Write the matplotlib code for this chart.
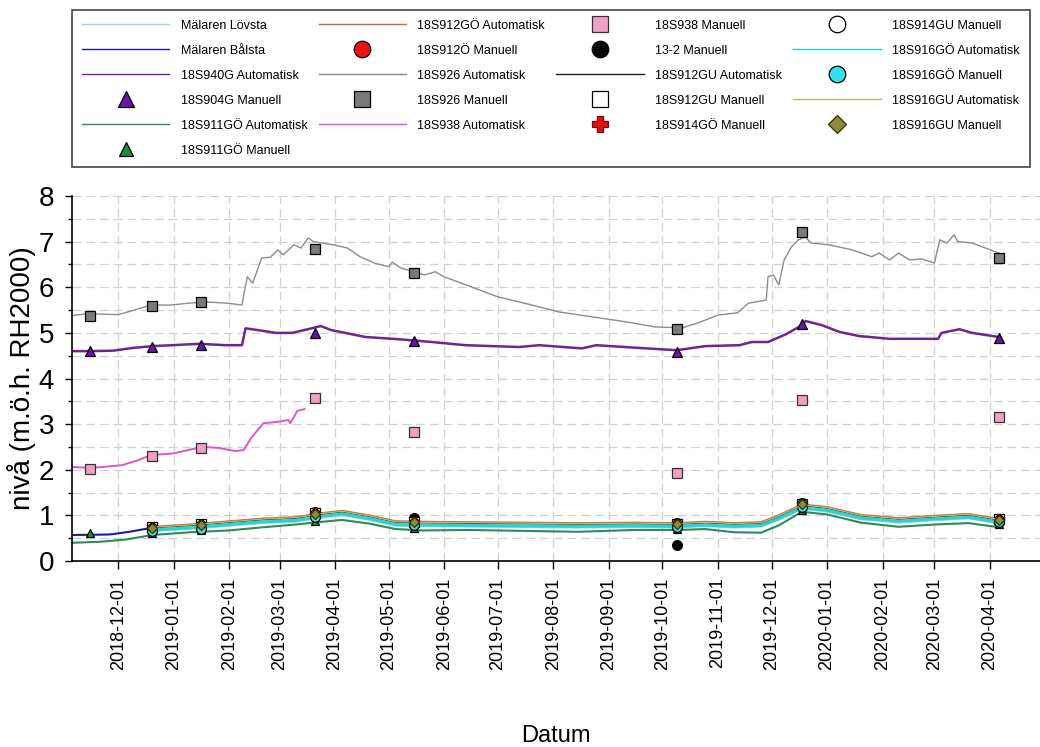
import numpy as np
import pandas as pd
import matplotlib
matplotlib.use('Agg')
import matplotlib.pyplot as plt
import matplotlib.dates as mdates
from matplotlib.ticker import MultipleLocator

plt.rcParams['font.family'] = ['Liberation Sans', 'DejaVu Sans']

# --- automatic loggers ---
s926_dates = ['2018-11-05', '2018-11-14', '2018-12-01', '2018-12-08', '2018-12-19', '2018-12-30',
              '2019-01-09', '2019-01-18', '2019-01-31', '2019-02-08', '2019-02-09', '2019-02-11',
              '2019-02-14', '2019-02-19', '2019-02-24', '2019-02-28', '2019-03-03', '2019-03-09',
              '2019-03-13', '2019-03-17', '2019-03-20', '2019-03-31', '2019-04-08', '2019-04-15',
              '2019-04-23', '2019-05-01', '2019-05-03', '2019-05-08', '2019-05-21', '2019-05-27',
              '2019-06-01', '2019-06-16', '2019-07-01', '2019-07-16', '2019-07-31', '2019-08-04',
              '2019-08-23', '2019-09-11', '2019-09-27', '2019-10-12', '2019-10-21', '2019-11-01',
              '2019-11-12', '2019-11-18', '2019-11-28', '2019-11-29', '2019-12-02', '2019-12-05',
              '2019-12-08', '2019-12-12', '2019-12-16', '2019-12-20', '2019-12-23', '2020-01-02',
              '2020-01-15', '2020-01-26', '2020-01-30', '2020-02-05', '2020-02-10', '2020-02-16',
              '2020-02-23', '2020-03-01', '2020-03-04', '2020-03-08', '2020-03-12', '2020-03-14',
              '2020-03-22', '2020-04-06']
s926_auto = [5.38, 5.42, 5.40, 5.48, 5.61, 5.61,
             5.65, 5.68, 5.65, 5.61, 5.83, 6.23,
             6.09, 6.64, 6.66, 6.82, 6.71, 6.93,
             6.86, 7.08, 7.00, 6.93, 6.86, 6.67,
             6.53, 6.45, 6.55, 6.42, 6.27, 6.34,
             6.23, 6.01, 5.79, 5.65, 5.50, 5.46,
             5.35, 5.24, 5.13, 5.11, 5.22, 5.39,
             5.44, 5.65, 5.72, 6.23, 6.27, 6.05,
             6.60, 6.88, 7.04, 7.10, 6.97, 6.93,
             6.82, 6.67, 6.75, 6.60, 6.75, 6.60,
             6.62, 6.53, 7.04, 6.97, 7.15, 7.00,
             6.97, 6.75]

s940_dates = ['2018-11-05', '2018-11-15', '2018-11-28', '2018-12-09', '2018-12-20', '2018-12-31',
              '2019-01-15', '2019-01-30', '2019-02-08', '2019-02-10', '2019-02-17', '2019-02-27',
              '2019-03-08', '2019-03-19', '2019-03-24', '2019-03-30', '2019-04-18', '2019-05-07',
              '2019-05-25', '2019-06-13', '2019-07-13', '2019-07-24', '2019-08-17', '2019-08-25',
              '2019-09-18', '2019-10-09', '2019-10-25', '2019-11-13', '2019-11-20', '2019-11-29',
              '2019-12-09', '2019-12-18', '2019-12-20', '2019-12-29', '2020-01-08', '2020-01-19',
              '2020-02-05', '2020-03-03', '2020-03-05', '2020-03-15', '2020-03-22', '2020-04-06']
s940_auto = [4.60, 4.60, 4.61, 4.67, 4.71, 4.73,
             4.76, 4.73, 4.73, 5.10, 5.06, 5.00,
             5.00, 5.10, 5.15, 5.06, 4.91, 4.86,
             4.80, 4.73, 4.69, 4.73, 4.66, 4.73,
             4.67, 4.62, 4.71, 4.73, 4.80, 4.80,
             4.97, 5.17, 5.26, 5.17, 5.02, 4.93,
             4.87, 4.87, 5.00, 5.08, 5.00, 4.91]

s938_dates = ['2018-11-05', '2018-11-16', '2018-12-03', '2018-12-12', '2018-12-19', '2019-01-01',
              '2019-01-11', '2019-01-16', '2019-01-26', '2019-02-04', '2019-02-09', '2019-02-13',
              '2019-02-20', '2019-02-28', '2019-03-06', '2019-03-07', '2019-03-11', '2019-03-15']
s938_auto = [2.06, 2.04, 2.10, 2.21, 2.32, 2.36,
             2.45, 2.50, 2.48, 2.41, 2.43, 2.69,
             3.02, 3.05, 3.09, 3.02, 3.29, 3.33]

# lower group of loggers (around 0.5 - 1.3 m)
low_dates = ['2018-12-20', '2019-01-10', '2019-02-01', '2019-02-20', '2019-03-10', '2019-03-25',
             '2019-04-05', '2019-04-20', '2019-05-05', '2019-05-20', '2019-06-15', '2019-07-15',
             '2019-08-15', '2019-09-15', '2019-10-10', '2019-10-25', '2019-11-10', '2019-11-25',
             '2019-12-05', '2019-12-18', '2020-01-01', '2020-01-20', '2020-02-10', '2020-03-01',
             '2020-03-20', '2020-04-06']
s912go_auto = [0.75, 0.80, 0.87, 0.93, 0.96, 1.05, 1.10, 1.00, 0.87, 0.86, 0.85, 0.84, 0.83,
               0.84, 0.83, 0.86, 0.83, 0.85, 1.00, 1.24, 1.18, 1.01, 0.94, 0.99, 1.03, 0.92]
s912gu_auto = [0.73, 0.78, 0.85, 0.91, 0.94, 1.03, 1.08, 0.98, 0.85, 0.84, 0.83, 0.82, 0.81,
               0.82, 0.81, 0.84, 0.81, 0.83, 0.98, 1.22, 1.16, 0.99, 0.92, 0.97, 1.01, 0.90]
s916gu_auto = [0.74, 0.79, 0.86, 0.92, 0.95, 1.04, 1.09, 0.99, 0.86, 0.85, 0.84, 0.83, 0.82,
               0.83, 0.82, 0.85, 0.82, 0.84, 0.99, 1.23, 1.17, 1.00, 0.93, 0.98, 1.02, 0.91]
s916go_auto = [0.68, 0.73, 0.80, 0.86, 0.89, 0.98, 1.03, 0.93, 0.80, 0.79, 0.78, 0.77, 0.76,
               0.77, 0.76, 0.79, 0.76, 0.78, 0.93, 1.17, 1.11, 0.94, 0.87, 0.92, 0.96, 0.85]
lovsta = [0.66, 0.71, 0.78, 0.84, 0.87, 0.96, 1.01, 0.91, 0.78, 0.77, 0.76, 0.75, 0.74,
          0.75, 0.74, 0.77, 0.74, 0.76, 0.91, 1.15, 1.09, 0.92, 0.85, 0.90, 0.94, 0.83]

s911_dates = ['2018-11-05', '2018-11-20', '2018-12-05'] + low_dates
s911_auto = [0.40, 0.42, 0.47, 0.57, 0.63, 0.67, 0.74, 0.80, 0.86, 0.90, 0.82, 0.70, 0.67,
             0.68, 0.66, 0.64, 0.68, 0.68, 0.70, 0.63, 0.62, 0.78, 1.08, 1.02, 0.84, 0.75,
             0.80, 0.83, 0.74]

balsta_dates = ['2018-11-05', '2018-11-25', '2018-11-28', '2018-12-07', '2018-12-20']
balsta = [0.57, 0.58, 0.59, 0.64, 0.73]

# --- manual readings ---
man_dates = ['2018-11-15', '2018-12-20', '2019-01-16', '2019-03-21', '2019-05-15',
             '2019-10-09', '2019-12-18', '2020-04-06']
s926_man = [5.38, 5.59, 5.68, 6.84, 6.32, 5.09, 7.21, 6.64]
s904_man = [4.60, 4.69, 4.73, 5.00, 4.82, 4.58, 5.20, 4.89]
s938_man = [2.02, 2.30, 2.48, 3.57, 2.83, 1.93, 3.53, 3.16]
s911_man = [0.62, 0.61, 0.67, 0.88, 0.72, 0.70, 1.12, 0.80]

low_man_dates = man_dates[1:]
s912o_man = [0.74, 0.80, 1.06, 0.87, 0.83, 1.27, 0.93]
s13_2_man = [0.73, 0.79, 1.07, 0.94, 0.36, 1.26, 0.92]
s912gu_man = [0.74, 0.80, 1.06, 0.86, 0.82, 1.26, 0.92]
s914go_man = [0.72, 0.79, 1.05, 0.85, 0.82, 1.25, 0.91]
s914gu_man = [0.72, 0.78, 1.04, 0.84, 0.80, 1.24, 0.90]
s916go_man = [0.65, 0.71, 0.97, 0.79, 0.75, 1.18, 0.85]
s916gu_man = [0.72, 0.78, 1.03, 0.85, 0.81, 1.24, 0.90]

fig = plt.figure(figsize=(10.4, 7.47), dpi=100)
ax = fig.add_axes([0.0692, 0.249, 0.9308, 0.4886])


def auto(dates, vals, color, label, lw=1.0):
    return ax.plot(pd.to_datetime(dates), vals, color=color, lw=lw, label=label)[0]


def manual(dates, vals, marker, fc, label, ms=7, ec='black'):
    return ax.plot(pd.to_datetime(dates), vals, ls='none', marker=marker, mfc=fc, mec=ec,
                   ms=ms, mew=0.9, label=label)[0]


# Draw in the same order as the legend
auto(low_dates, lovsta, '#a9cfe6', 'Mälaren Lövsta', 2.0)
auto(balsta_dates, balsta, '#1c1ca0', 'Mälaren Bålsta', 1.5)
auto(s940_dates, s940_auto, '#6e2590', '18S940G Automatisk', 1.8)
manual(man_dates, s904_man, '^', '#6a14a8', '18S904G Manuell', 7)
auto(s911_dates, s911_auto, '#2e8b57', '18S911GÖ Automatisk', 1.5)
manual(man_dates, s911_man, '^', '#1f8a3a', '18S911GÖ Manuell', 6)
auto(low_dates, s912go_auto, '#d8603f', '18S912GÖ Automatisk', 1.5)
manual(low_man_dates, s912o_man, 'o', '#ee1111', '18S912Ö Manuell', 7)
auto(s926_dates, s926_auto, '#8c8c8c', '18S926 Automatisk', 1.0)
manual(man_dates, s926_man, 's', '#7a7a7a', '18S926 Manuell', 7)
auto(s938_dates, s938_auto, '#dd55cc', '18S938 Automatisk', 1.4)
manual(man_dates, s938_man, 's', '#f0a0c4', '18S938 Manuell', 7, '#333333')
manual(low_man_dates, s13_2_man, 'o', 'black', '13-2 Manuell', 7)
auto(low_dates, s912gu_auto, '#222222', '18S912GU Automatisk', 1.2)
manual(low_man_dates, s912gu_man, 's', 'white', '18S912GU Manuell', 7)
manual(low_man_dates, s914go_man, 'P', '#dd1111', '18S914GÖ Manuell', 7, '#880000')
manual(low_man_dates, s914gu_man, 'o', 'white', '18S914GU Manuell', 7)
auto(low_dates, s916go_auto, '#22d4d4', '18S916GÖ Automatisk', 2.2)
manual(low_man_dates, s916go_man, 'o', '#33e0e8', '18S916GÖ Manuell', 7)
auto(low_dates, s916gu_auto, '#b8b870', '18S916GU Automatisk', 1.0)
manual(low_man_dates, s916gu_man, 'D', '#8b8b3a', '18S916GU Manuell', 5.5, '#333300')

# Axes formatting
ax.set_xlim(pd.Timestamp('2018-11-05'), pd.Timestamp('2020-04-29'))
ax.set_ylim(0, 8)
ax.xaxis.set_major_locator(mdates.MonthLocator(bymonthday=1))
ax.xaxis.set_major_formatter(mdates.DateFormatter('%Y-%m-%d'))
ax.yaxis.set_major_locator(MultipleLocator(1))
ax.yaxis.set_minor_locator(MultipleLocator(0.5))
ax.grid(which='both', axis='y', ls=(0, (7, 4)), color='#d0d0d0', lw=0.9)
ax.grid(which='major', axis='x', ls=(0, (7, 4)), color='#d0d0d0', lw=0.9)
ax.set_axisbelow(True)
for side in ['top', 'right']:
    ax.spines[side].set_visible(False)
for side in ['left', 'bottom']:
    ax.spines[side].set_linewidth(1.2)
ax.tick_params(axis='y', which='major', length=5, width=1, labelsize=20, pad=8)
ax.tick_params(axis='y', which='minor', length=3, width=1)
ax.tick_params(axis='x', which='major', length=6, width=1, labelsize=13, pad=6, labelrotation=90)
ax.set_ylabel('nivå (m.ö.h. RH2000)', fontsize=20, labelpad=2)
ax.set_xlabel('Datum', fontsize=17)
ax.xaxis.set_label_coords(0.5, -0.45)

leg = fig.legend(loc='upper left', bbox_to_anchor=(0.0692, 0.987, 0.921, 0), mode='expand',
                 borderaxespad=0, ncol=4, fontsize=9, handlelength=7, handletextpad=0.9,
                 labelspacing=1.04, borderpad=0.8, markerscale=1.7, fancybox=False,
                 edgecolor='#444444', framealpha=1)
leg.get_frame().set_linewidth(1.2)
# thin lines in the legend, as in the original
for h in leg.legend_handles:
    if h.get_linestyle() != 'None':
        h.set_linewidth(1.0)

fig.savefig('out.png', dpi=100)
